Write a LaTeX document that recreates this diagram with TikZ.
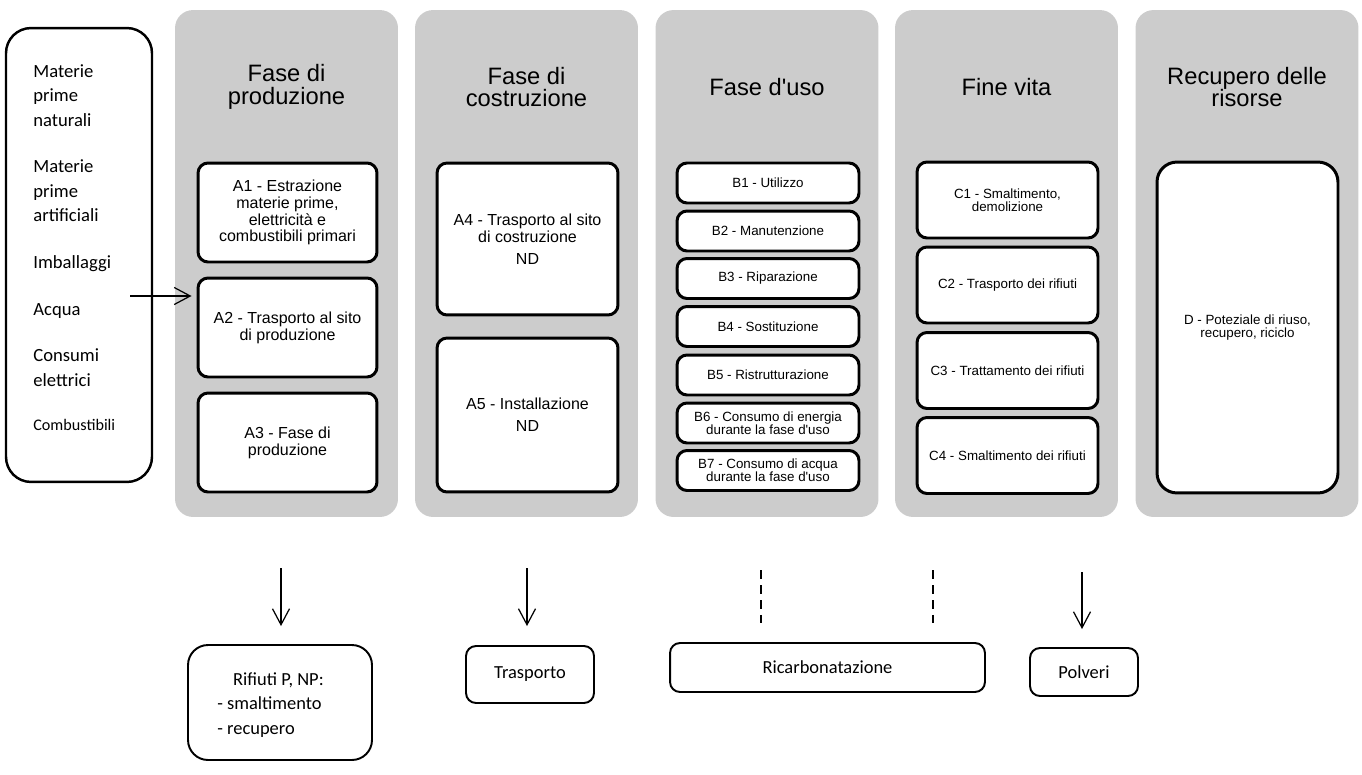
\documentclass[tikz,border=0pt]{standalone}
\usepackage{fontspec}
\setmainfont{Liberation Sans}
\newfontfamily\calibri{Carlito}
\usetikzlibrary{arrows.meta}
\definecolor{fase}{RGB}{204,204,204}
\definecolor{bordo}{RGB}{0,0,0}

\tikzset{
  colonna/.style={fill=fase, rounded corners=0.36cm, minimum width=4.46cm, minimum height=10.14cm, inner sep=0pt},
  titolo/.style={align=center, inner sep=0pt, font=\fontsize{13.5}{13}\selectfont},
  modulo/.style={draw=bordo, line width=1.7pt, fill=white, rounded corners=0.2cm, align=center, inner sep=0pt, font=\fontsize{9.1}{9.6}\selectfont},
  modulino/.style={modulo, font=\fontsize{7.6}{7.6}\selectfont},
  uscita/.style={draw=bordo, line width=1.1pt, rounded corners=0.2cm, inner sep=0pt, align=center, font=\calibri\fontsize{10.5}{14}\selectfont},
  freccia/.style={-{Straight Barb[length=0.32cm,width=0.34cm]}, line width=0.7pt},
}

\begin{document}
\begin{tikzpicture}[x=0.02cm, y=-0.02cm]
    \useasboundingbox (0,0) rectangle (1362,774);

    % ingressi
    \node[draw=bordo, line width=1.4pt, rounded corners=0.5cm, minimum width=2.92cm, minimum height=9.08cm] (ing) at (79,255) {};
    \node[anchor=north west, inner sep=0pt, align=left, font=\calibri\fontsize{10.6}{13.9}\selectfont] (ingtesto) at (33,64)
        {Materie\\prime\\naturali\\[12.7pt]Materie\\prime\\artificiali\\[12.7pt]Imballaggi\\[12.7pt]Acqua\\[12.7pt]Consumi\\elettrici\\[11.5pt]{\fontsize{9.2}{11}\selectfont Combustibili}};

    % colonne
    \node[colonna] (cA) at (286.5,263.5) {};
    \node[colonna] (cB) at (526.5,263.5) {};
    \node[colonna] (cC) at (767,263.5) {};
    \node[colonna] (cD) at (1006.5,263.5) {};
    \node[colonna] (cE) at (1247,263.5) {};

    \node[titolo] (tA) at (286.5,87) {Fase di\\produzione};
    \node[titolo] (tB) at (526.5,87) {Fase di\\costruzione};
    \node[titolo] (tC) at (767,87) {Fase d\textquotesingle uso};
    \node[titolo] (tD) at (1006.5,87) {Fine vita};
    \node[titolo] (tE) at (1247,87) {Recupero delle\\risorse};

    % moduli A
    \node[modulo, minimum width=3.58cm, minimum height=1.98cm] (A1) at (287.5,212.5) {A1 - Estrazione\\materie prime,\\elettricità e\\combustibili primari};
    \node[modulo, minimum width=3.58cm, minimum height=1.98cm] (A2) at (287.5,327.5) {A2 - Trasporto al sito\\di produzione};
    \node[modulo, minimum width=3.58cm, minimum height=1.98cm] (A3) at (287.5,442.5) {A3 - Fase di\\produzione};
    \node[modulo, minimum width=3.62cm, minimum height=3.04cm] (A4) at (527.5,239) {A4 - Trasporto al sito\\di costruzione\\[3pt]ND};
    \node[modulo, minimum width=3.62cm, minimum height=3.08cm] (A5) at (527.5,415) {A5 - Installazione\\[3pt]ND};

    % moduli B
    \node[modulino, minimum width=3.64cm, minimum height=0.8cm] (B1) at (768,183) {B1 - Utilizzo};
    \node[modulino, minimum width=3.64cm, minimum height=0.8cm] (B2) at (768,231) {B2 - Manutenzione};
    \node[modulino, minimum width=3.64cm, minimum height=0.8cm] (B3) at (768,278.5) {B3 - Riparazione};
    \node[modulino, minimum width=3.64cm, minimum height=0.8cm] (B4) at (768,326.5) {B4 - Sostituzione};
    \node[modulino, minimum width=3.64cm, minimum height=0.8cm] (B5) at (768,375) {B5 - Ristrutturazione};
    \node[modulino, minimum width=3.64cm, minimum height=0.8cm] (B6) at (768,423) {B6 - Consumo di energia\\durante la fase d\textquotesingle uso};
    \node[modulino, minimum width=3.64cm, minimum height=0.8cm] (B7) at (768,470.5) {B7 - Consumo di acqua\\durante la fase d\textquotesingle uso};

    % moduli C e D
    \node[modulino, minimum width=3.62cm, minimum height=1.52cm] (C1) at (1007.5,200) {C1 - Smaltimento,\\demolizione};
    \node[modulino, minimum width=3.62cm, minimum height=1.52cm] (C2) at (1007.5,285) {C2 - Trasporto dei rifiuti};
    \node[modulino, minimum width=3.62cm, minimum height=1.52cm] (C3) at (1007.5,370.5) {C3 - Trattamento dei rifiuti};
    \node[modulino, minimum width=3.62cm, minimum height=1.52cm] (C4) at (1007.5,455.5) {C4 - Smaltimento dei rifiuti};
    \node[modulino, minimum width=3.62cm, minimum height=6.62cm, rounded corners=0.4cm] (D) at (1247.5,327.5) {D - Poteziale di riuso,\\recupero, riciclo};

    % uscite
    \node[uscita, rounded corners=0.4cm, minimum width=3.68cm, minimum height=2.3cm] (rif) at (280,702.5) {};
    \node[anchor=west, inner sep=0pt, align=left, font=\calibri\fontsize{10.5}{14}\selectfont] (riftesto) at (217,705) {\hspace*{9pt}Rifiuti P, NP:\\- smaltimento\\- recupero};
    \node[uscita, minimum width=2.56cm, minimum height=1.14cm] (tra) at (530,674.5) {Trasporto};
    \node[uscita, minimum width=6.3cm, minimum height=0.98cm] (ric) at (827.5,667.5) {Ricarbonatazione};
    \node[uscita, minimum width=2.16cm, minimum height=0.96cm] (pol) at (1084,672) {Polveri};

    \coordinate (ingfreccia) at (130,296);
    \coordinate (frA) at (281,568);
    \coordinate (frB) at (527,568);
    \coordinate (frC) at (1082,572);
    \coordinate (trB) at (761,570);
    \coordinate (trC) at (933,570);

    \draw[freccia, shorten >=0.1cm] (ingfreccia) -- (ingfreccia -| A2.west);
    \draw[freccia, shorten >=0.36cm] (frA) -- (frA |- rif.north);
    \draw[freccia, shorten >=0.38cm] (frB) -- (frB |- tra.north);
    \draw[freccia, shorten >=0.36cm] (frC) -- (frC |- pol.north);
    \draw[line width=0.6pt, dash pattern=on 0.17cm off 0.13cm, shorten >=0.26cm] (trB) -- (trB |- ric.north);
    \draw[line width=0.6pt, dash pattern=on 0.17cm off 0.13cm, shorten >=0.26cm] (trC) -- (trC |- ric.north);

\end{tikzpicture}
\end{document}
